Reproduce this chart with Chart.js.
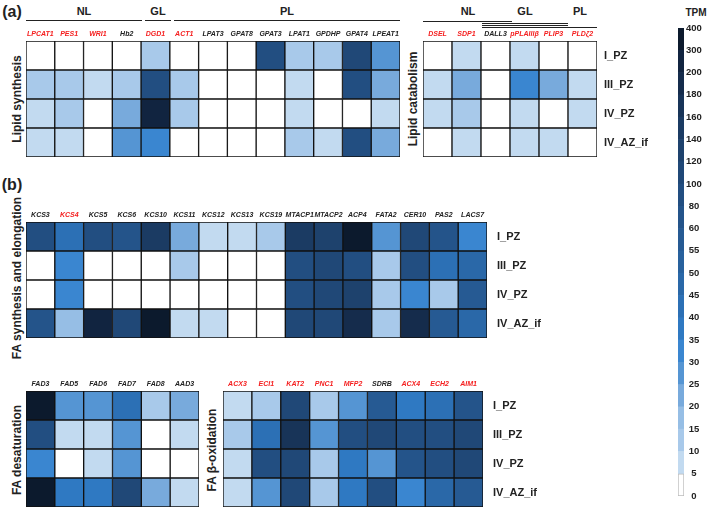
<!DOCTYPE html>
<html lang="en">
<head>
  <meta charset="UTF-8">
  <title>TPM heatmaps</title>
  <script src="https://cdn.jsdelivr.net/npm/chart.js"></script>
  <style>
    body { margin: 0; width: 709px; height: 511px; position: relative; background: #fff; overflow: hidden;
           font-family: 'Liberation Sans', Arial, sans-serif; color: #222; }
    canvas { position: absolute; }
    .t { position: absolute; font-weight: bold; white-space: nowrap; transform: translate(-50%, -50%); }
    .rot { transform: translate(-50%, -50%) rotate(-90deg); font-size: 12px; }
    .hdr { font-size: 11px; }
    .ln { position: absolute; height: 0; border-top: 1.4px solid #222; }
  </style>
</head>
<body>
  <div class="t" style="left:12px;top:12px;font-size:16px">(a)</div>
  <div class="t" style="left:12px;top:185px;font-size:16px">(b)</div>

  <div class="t hdr" style="left:84px;top:11px">NL</div>
  <div class="t hdr" style="left:158px;top:11px">GL</div>
  <div class="t hdr" style="left:287px;top:11px">PL</div>
  <div class="ln" style="left:26px;top:20px;width:116px"></div>
  <div class="ln" style="left:145px;top:20px;width:26px"></div>
  <div class="ln" style="left:174px;top:20px;width:226px"></div>

  <div class="t hdr" style="left:468px;top:11px">NL</div>
  <div class="t hdr" style="left:525px;top:11px">GL</div>
  <div class="t hdr" style="left:580px;top:11px">PL</div>
  <div class="ln" style="left:423px;top:21px;width:89px"></div>
  <div class="ln" style="left:482px;top:23px;width:86px"></div>
  <div class="ln" style="left:482px;top:25px;width:86px"></div>
  <div class="ln" style="left:482px;top:27px;width:115px"></div>

  <div class="t rot" style="left:17px;top:99px">Lipid synthesis</div>
  <div class="t rot" style="left:413px;top:99px">Lipid catabolism</div>
  <div class="t rot" style="left:17px;top:278px">FA synthesis and elongation</div>
  <div class="t rot" style="left:17px;top:450px">FA desaturation</div>
  <div class="t rot" style="left:212px;top:450px">FA β-oxidation</div>

  <div class="t" style="left:696px;top:12px;font-size:10px">TPM</div>

  <canvas id="lipidSyn" width="374" height="132" style="left:26px;top:25px"></canvas>
  <canvas id="lipidCat" width="250" height="132" style="left:423px;top:25px"></canvas>
  <canvas id="faSyn" width="537" height="132" style="left:26px;top:206px"></canvas>
  <canvas id="faDes" width="173" height="132" style="left:26px;top:375px"></canvas>
  <canvas id="faOx" width="336" height="132" style="left:223px;top:375px"></canvas>
  <canvas id="scaleBar" width="31" height="490" style="left:678px;top:18px"></canvas>

  <script>
    const FONT = "'Liberation Sans', Arial, sans-serif";

    const rowLabels = ['I_PZ', 'III_PZ', 'IV_PZ', 'IV_AZ_if'];

    // colour scale (TPM bins)
    const binEdges = [0, 5, 10, 15, 20, 25, 30, 35, 40, 45, 50, 55, 60, 80, 100, 120, 140, 160, 180, 200, 300, 400];
    const binColors = ['#ffffff', '#c2daf0', '#a8c9ea', '#96bee5', '#78aadc', '#5595d3', '#3a86d0',
                       '#2f79c2', '#2c70b5', '#2a68a8', '#28619d', '#265a93', '#24548a', '#224e81',
                       '#204877', '#1e426d', '#1b3b63', '#183458', '#152c4c', '#112440', '#0c1a2d'];

    const redGenes = ['LPCAT1', 'PES1', 'WRI1', 'DGD1', 'ACT1', 'DSEL', 'SDP1', 'pPLAIIIβ', 'PLIP3', 'PLDζ2',
                      'KCS4', 'ACX3', 'ECI1', 'KAT2', 'PNC1', 'MFP2', 'ACX4', 'ECH2', 'AIM1'];

    // (a) lipid synthesis
    const lipidSynGenes = ['LPCAT1', 'PES1', 'WRI1', 'Hb2', 'DGD1', 'ACT1', 'LPAT3', 'GPAT8', 'GPAT3', 'LPAT1', 'GPDHP', 'GPAT4', 'LPEAT1'];
    const lipidSynTPM = [
      [0, 0, 0, 0, 12, 0, 0, 0, 90, 12, 12, 100, 27],
      [12, 12, 7, 12, 90, 12, 0, 0, 0, 7, 0, 90, 22],
      [7, 12, 0, 22, 250, 12, 0, 0, 0, 7, 0, 0, 7],
      [7, 7, 0, 27, 32, 0, 0, 0, 0, 12, 7, 90, 22]
    ];

    // (a) lipid catabolism
    const lipidCatGenes = ['DSEL', 'SDP1', 'DALL3', 'pPLAIIIβ', 'PLIP3', 'PLDζ2'];
    const lipidCatTPM = [
      [0, 7, 0, 7, 0, 0],
      [7, 22, 0, 32, 22, 7],
      [7, 12, 0, 7, 0, 7],
      [0, 7, 0, 7, 7, 0]
    ];

    // (b) FA synthesis and elongation
    const faSynGenes = ['KCS3', 'KCS4', 'KCS5', 'KCS6', 'KCS10', 'KCS11', 'KCS12', 'KCS13', 'KCS19', 'MTACP1', 'MTACP2', 'ACP4', 'FATA2', 'CER10', 'PAS2', 'LACS7'];
    const faSynTPM = [
      [90, 42, 90, 70, 150, 22, 7, 7, 12, 150, 130, 350, 27, 110, 70, 32],
      [0, 32, 0, 0, 0, 12, 0, 0, 0, 90, 100, 90, 12, 90, 40, 47],
      [0, 32, 0, 0, 0, 0, 0, 0, 0, 90, 110, 130, 12, 32, 12, 55],
      [70, 17, 250, 110, 350, 7, 7, 0, 0, 100, 100, 190, 12, 190, 57, 47]
    ];

    // (b) FA desaturation
    const faDesGenes = ['FAD3', 'FAD5', 'FAD6', 'FAD7', 'FAD8', 'AAD3'];
    const faDesTPM = [
      [350, 27, 27, 42, 12, 22],
      [90, 7, 7, 27, 0, 7],
      [32, 0, 7, 27, 0, 0],
      [350, 37, 37, 110, 22, 7]
    ];

    // (b) FA beta-oxidation
    const faOxGenes = ['ACX3', 'ECI1', 'KAT2', 'PNC1', 'MFP2', 'SDRB', 'ACX4', 'ECH2', 'AIM1'];
    const faOxTPM = [
      [7, 12, 100, 12, 27, 55, 37, 42, 60],
      [12, 40, 170, 27, 90, 100, 90, 90, 100],
      [7, 90, 100, 12, 37, 27, 70, 90, 100],
      [7, 27, 100, 12, 37, 90, 32, 47, 55]
    ];

    function tpmColor(v) {
      for (let i = binEdges.length - 2; i >= 0; i--) {
        if (v >= binEdges[i]) return binColors[i];
      }
      return binColors[0];
    }

    function heatmap(id, genes, tpm, rowPad) {
      const showRows = rowPad != null;
      const datasets = rowLabels.map((r, i) => ({
        label: r,
        data: genes.map(() => 1),
        backgroundColor: tpm[i].map(tpmColor),
        borderColor: '#111',
        borderWidth: 1,
        borderSkipped: false,
        barPercentage: 1,
        categoryPercentage: 1
      })).reverse();

      return new Chart(document.getElementById(id), {
        type: 'bar',
        data: { labels: genes, datasets: datasets },
        options: {
          responsive: false,
          animation: false,
          layout: { padding: 0 },
          plugins: { legend: { display: false }, tooltip: { enabled: false } },
          scales: {
            x: {
              position: 'top',
              stacked: true,
              grid: { display: false, drawTicks: false },
              border: { display: false },
              ticks: {
                autoSkip: false, maxRotation: 0, minRotation: 0, padding: 3,
                font: { family: FONT, size: 7, weight: 'bold', style: 'italic' },
                color: c => redGenes.includes(genes[c.index]) ? '#f52020' : '#222'
              },
              afterFit: s => { s.height = 16; s.paddingLeft = 0; s.paddingRight = 0; }
            },
            y: {
              display: showRows,
              position: 'right',
              stacked: true,
              min: 0,
              max: 4,
              grid: { display: false, drawTicks: false },
              border: { display: false },
              afterBuildTicks: s => { s.ticks = [3.5, 2.5, 1.5, 0.5].map(v => ({ value: v })); },
              ticks: {
                padding: rowPad || 0,
                callback: v => rowLabels[3 - Math.floor(v)],
                font: { family: FONT, size: 11, weight: 'bold' },
                color: '#222'
              },
              afterFit: s => { s.width = showRows ? 76 : 0; s.paddingTop = 0; s.paddingBottom = 0; }
            }
          }
        }
      });
    }

    heatmap('lipidSyn', lipidSynGenes, lipidSynTPM, null);
    heatmap('lipidCat', lipidCatGenes, lipidCatTPM, 7);
    heatmap('faSyn', faSynGenes, faSynTPM, 10);
    heatmap('faDes', faDesGenes, faDesTPM, null);
    heatmap('faOx', faOxGenes, faOxTPM, 10);

    // colour bar
    new Chart(document.getElementById('scaleBar'), {
      type: 'bar',
      data: {
        labels: [''],
        datasets: binColors.map((c, i) => ({
          data: [1],
          backgroundColor: c,
          borderColor: '#bbbbbb',
          borderWidth: i === 0 ? 1 : 0,
          borderSkipped: false,
          barPercentage: 1,
          categoryPercentage: 1
        }))
      },
      options: {
        responsive: false,
        animation: false,
        layout: { padding: { top: 10, bottom: 12 } },
        plugins: { legend: { display: false }, tooltip: { enabled: false } },
        scales: {
          x: { display: false, stacked: true },
          y: {
            position: 'right',
            stacked: true,
            min: 0,
            max: binColors.length,
            grid: { display: false, drawTicks: false },
            border: { display: false },
            ticks: {
              stepSize: 1,
              padding: 2,
              crossAlign: 'center',
              callback: v => binEdges[v],
              font: { family: FONT, size: 9.5, weight: 'bold' },
              color: '#222'
            },
            afterFit: s => { s.width = 25; }
          }
        }
      }
    });
  </script>
</body>
</html>
